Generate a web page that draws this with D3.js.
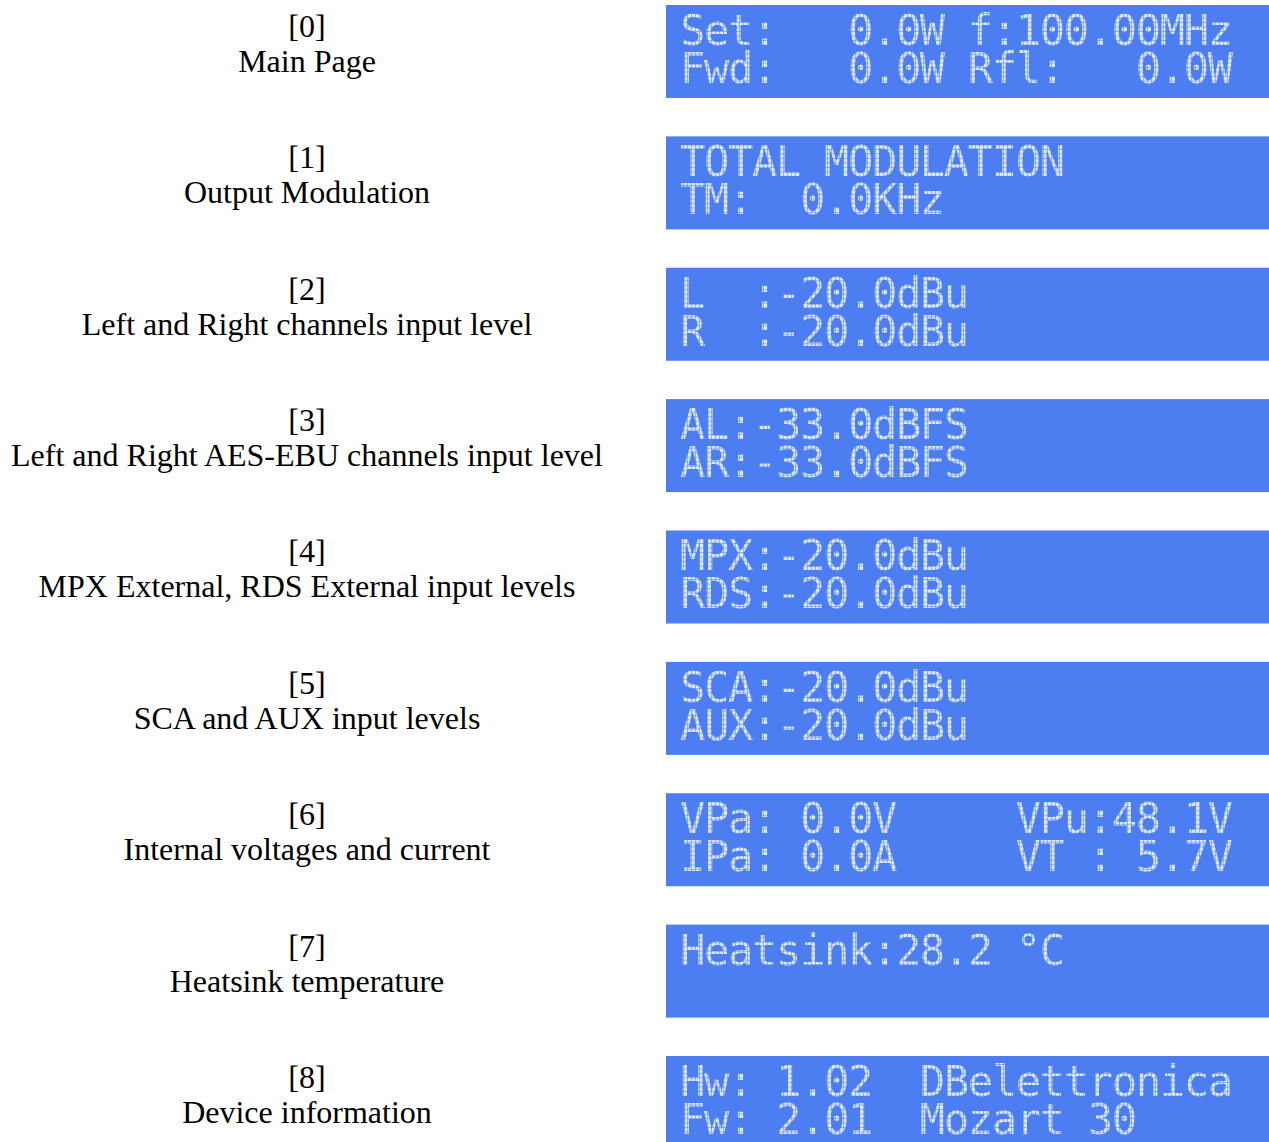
<!DOCTYPE html>
<html>
<head>
<meta charset="utf-8">
<script src="https://cdn.jsdelivr.net/npm/d3@7"></script>
<style>
    body { margin: 0; background: #ffffff; }
    svg { display: block; }
    .page-num, .page-name { font-family: "Liberation Serif", "Times New Roman", serif; font-size: 32px; fill: #000; }
    .lcd-text { font-family: "DejaVu Sans Mono", monospace; font-size: 42px; letter-spacing: -1.3px; fill: #dbe6ff; white-space: pre; }
</style>
</head>
<body>
<script>
(function () {
    // display pages of the LCD menu
    var pageIndex = ["[0]", "[1]", "[2]", "[3]", "[4]", "[5]", "[6]", "[7]", "[8]"];

    var pageNames = [
        "Main Page",
        "Output Modulation",
        "Left and Right channels input level",
        "Left and Right AES-EBU channels input level",
        "MPX External, RDS External input levels",
        "SCA and AUX input levels",
        "Internal voltages and current",
        "Heatsink temperature",
        "Device information"
    ];

    // what each screen shows, first and second row
    var lcdLine1 = [
        "Set:   0.0W f:100.00MHz",
        "TOTAL MODULATION",
        "L  :-20.0dBu",
        "AL:-33.0dBFS",
        "MPX:-20.0dBu",
        "SCA:-20.0dBu",
        "VPa: 0.0V     VPu:48.1V",
        "Heatsink:28.2 °C",
        "Hw: 1.02  DBelettronica"
    ];

    var lcdLine2 = [
        "Fwd:   0.0W Rfl:   0.0W",
        "TM:  0.0KHz",
        "R  :-20.0dBu",
        "AR:-33.0dBFS",
        "RDS:-20.0dBu",
        "AUX:-20.0dBu",
        "IPa: 0.0A     VT : 5.7V",
        "",
        "Fw: 2.01  Mozart 30"
    ];

    var width = 1269;
    var height = 1142;

    var svg = d3.select("body")
        .append("svg")
        .attr("width", width)
        .attr("height", height);

    // dot matrix mask so the characters look like LCD pixels
    var defs = svg.append("defs");
    var pattern = defs.append("pattern")
        .attr("id", "dots")
        .attr("patternUnits", "userSpaceOnUse")
        .attr("width", 4)
        .attr("height", 4.5);
    pattern.append("rect")
        .attr("width", 3.5)
        .attr("height", 4)
        .attr("fill", "#fff");
    defs.append("mask")
        .attr("id", "lcdMask")
        .attr("maskUnits", "userSpaceOnUse")
        .attr("x", 0).attr("y", 0)
        .attr("width", width).attr("height", height)
        .append("rect")
        .attr("width", width)
        .attr("height", height)
        .attr("fill", "url(#dots)");

    // one row per page
    var y = d3.scaleBand()
        .domain(d3.range(pageIndex.length))
        .range([5, 1149])
        .paddingInner(0.292)
        .paddingOuter(0);

    var panelX = 666;
    var labelX = 307;

    var rows = svg.selectAll(".row")
        .data(d3.range(pageIndex.length))
        .enter()
        .append("g")
        .attr("class", "row")
        .attr("transform", function (i) { return "translate(0," + y(i) + ")"; });

    // left captions
    rows.append("text")
        .attr("class", "page-num")
        .attr("x", labelX)
        .attr("y", 32)
        .attr("text-anchor", "middle")
        .text(function (i) { return pageIndex[i]; });

    rows.append("text")
        .attr("class", "page-name")
        .attr("x", labelX)
        .attr("y", 67)
        .attr("text-anchor", "middle")
        .text(function (i) { return pageNames[i]; });

    // blue LCD panels
    rows.append("rect")
        .attr("x", panelX)
        .attr("y", 0)
        .attr("width", width - panelX + 10)
        .attr("height", y.bandwidth())
        .attr("fill", "#4c7ef2");

    // both display rows in one text block
    var screen = rows.append("text")
        .attr("class", "lcd-text")
        .attr("mask", "url(#lcdMask)")
        .attr("y", 40);

    screen.append("tspan")
        .attr("x", panelX + 14)
        .text(function (i) { return lcdLine1[i]; });

    screen.append("tspan")
        .attr("x", panelX + 14)
        .attr("dy", 38)
        .text(function (i) { return lcdLine2[i]; });
})();
</script>
</body>
</html>
